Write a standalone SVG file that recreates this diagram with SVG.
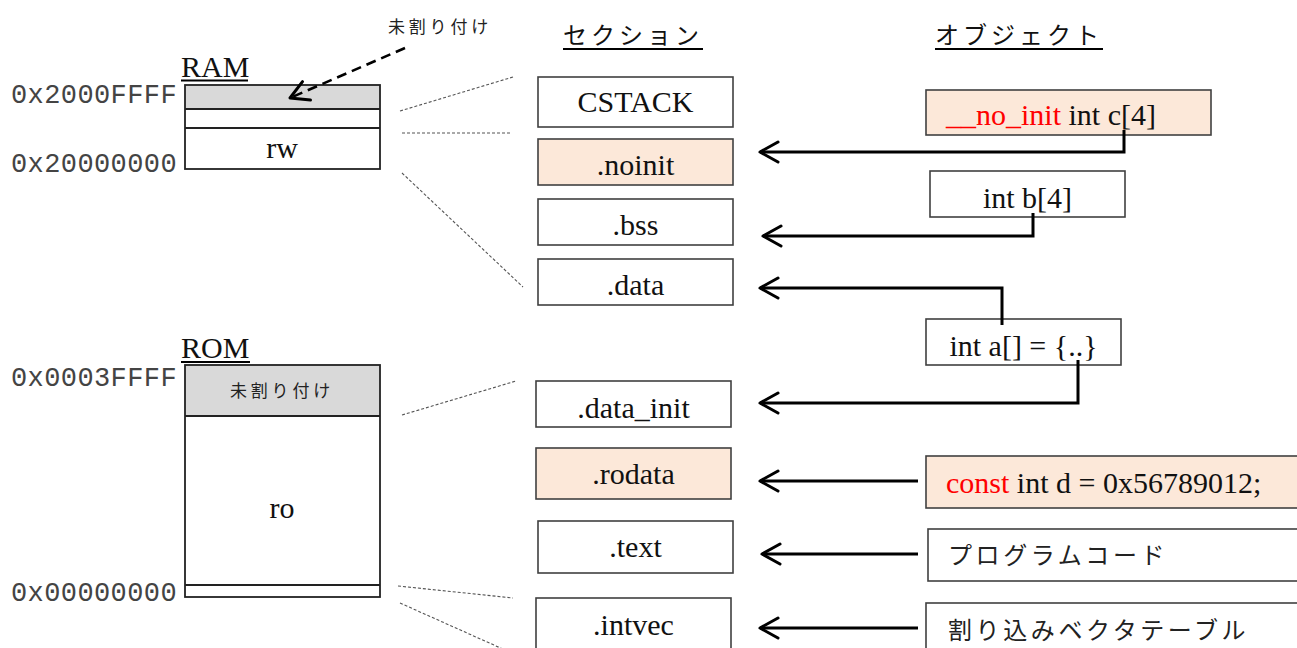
<svg xmlns="http://www.w3.org/2000/svg" width="1297" height="648" viewBox="0 0 1297 648">
<style>
.box{stroke:#404040;stroke-width:1.6;fill:#fff}
.peach{fill:#fce8d9}
.gray{fill:#d9d9d9}
.mem{stroke:#222;stroke-width:1.8;fill:none}
.t{font-family:"Liberation Serif","Times New Roman",serif;font-size:30px;fill:#111}
.jp{font-family:"Noto Sans CJK JP","Noto Sans",sans-serif;fill:#222}
.hdr{font-size:24px;letter-spacing:4px;fill:#111}
.addr{font-family:"Liberation Mono","Courier New",monospace;font-size:27px;letter-spacing:0.4px;fill:#444}
.red{fill:#ff0000}
.dot{stroke:#555;stroke-width:1.1;stroke-dasharray:3 2;fill:none}
.conn{stroke:#000;stroke-width:3;fill:none;marker-end:url(#arr)}
</style>
<defs>
<marker id="arr" viewBox="-20 -12 23 24" refX="0" refY="0" markerWidth="23" markerHeight="24" markerUnits="userSpaceOnUse" orient="auto">
<path d="M -18 -10 L 0 0 L -18 10" fill="none" stroke="#000" stroke-width="3" stroke-linecap="round" stroke-linejoin="round"/>
</marker>
</defs>

<g id="ram">
<text class="t" x="181" y="77" font-size="29">RAM</text>
<line x1="181" y1="80.5" x2="248" y2="80.5" stroke="#000" stroke-width="2"/>
<rect class="gray" x="185" y="85" width="195" height="24"/>
<rect class="mem" x="185" y="85" width="195" height="84"/>
<line class="mem" x1="185" y1="109" x2="380" y2="109"/>
<line class="mem" x1="185" y1="128" x2="380" y2="128"/>
<text class="t" x="282" y="158" text-anchor="middle">rw</text>
<text class="addr" x="11" y="103">0x2000FFFF</text>
<text class="addr" x="11" y="172">0x20000000</text>
</g>

<g id="unalloc-note">
<text class="jp" x="388" y="33" font-size="17" letter-spacing="3.8" fill="#444">未割り付け</text>
<line x1="405" y1="48" x2="290" y2="98" stroke="#000" stroke-width="2.6" stroke-dasharray="10 6" marker-end="url(#arr)"/>
</g>

<g id="rom">
<text class="t" x="181" y="358" font-size="29">ROM</text>
<line x1="181" y1="362" x2="250" y2="362" stroke="#000" stroke-width="2"/>
<rect class="gray" x="185" y="365" width="195" height="51"/>
<rect class="mem" x="185" y="365" width="195" height="232"/>
<line class="mem" x1="185" y1="416" x2="380" y2="416"/>
<line class="mem" x1="185" y1="585" x2="380" y2="585"/>
<text class="jp" x="282" y="397" font-size="17" letter-spacing="3.8" fill="#444" text-anchor="middle">未割り付け</text>
<text class="t" x="282" y="518" text-anchor="middle">ro</text>
<text class="addr" x="11" y="386">0x0003FFFF</text>
<text class="addr" x="11" y="601">0x00000000</text>
</g>

<g id="headers">
<text class="jp hdr" x="563" y="44">セクション</text>
<line x1="563" y1="49" x2="703" y2="49" stroke="#000" stroke-width="2"/>
<text class="jp hdr" x="935" y="44">オブジェクト</text>
<line x1="935" y1="49" x2="1103" y2="49" stroke="#000" stroke-width="2"/>
</g>

<g id="sec-cstack"><rect class="box" x="538" y="77" width="195" height="50"/><text class="t" x="635.5" y="112" text-anchor="middle">CSTACK</text></g>
<g id="sec-noinit"><rect class="box peach" x="538" y="139" width="195" height="46"/><text class="t" x="635.5" y="175" text-anchor="middle">.noinit</text></g>
<g id="sec-bss"><rect class="box" x="538" y="199" width="195" height="46"/><text class="t" x="635.5" y="235" text-anchor="middle">.bss</text></g>
<g id="sec-data"><rect class="box" x="538" y="259" width="195" height="46"/><text class="t" x="635.5" y="295" text-anchor="middle">.data</text></g>
<g id="sec-data-init"><rect class="box" x="536" y="381" width="195" height="46"/><text class="t" x="633.5" y="418" text-anchor="middle">.data_init</text></g>
<g id="sec-rodata"><rect class="box peach" x="536" y="448" width="195" height="51"/><text class="t" x="633.5" y="484" text-anchor="middle">.rodata</text></g>
<g id="sec-text"><rect class="box" x="538" y="521" width="195" height="52"/><text class="t" x="635.5" y="557" text-anchor="middle">.text</text></g>
<g id="sec-intvec"><rect class="box" x="536" y="598" width="195" height="60"/><text class="t" x="633.5" y="635" text-anchor="middle">.intvec</text></g>

<g id="obj-c"><rect class="box peach" x="926" y="90" width="285" height="45"/><text class="t" x="946" y="125"><tspan class="red">__no_init</tspan> int c[4]</text></g>
<g id="obj-b"><rect class="box" x="930" y="171" width="195" height="46"/><text class="t" x="1027.5" y="208" text-anchor="middle">int b[4]</text></g>
<g id="obj-a"><rect class="box" x="926" y="319" width="195" height="46"/><text class="t" x="1023.5" y="356" text-anchor="middle">int a[] = {..}</text></g>
<g id="obj-d"><rect class="box peach" x="926" y="456" width="390" height="52"/><text class="t" x="946" y="493" font-size="31"><tspan class="red">const</tspan> int d = 0x56789012;</text></g>
<g id="obj-code"><rect class="box" x="928" y="529" width="390" height="52"/><text class="jp" x="948" y="564" font-size="24" letter-spacing="3.6">プログラムコード</text></g>
<g id="obj-vec"><rect class="box" x="926" y="603" width="390" height="60"/><text class="jp" x="948" y="639" font-size="24" letter-spacing="3.6">割り込みベクタテーブル</text></g>

<g id="connectors">
<line class="dot" x1="400" y1="111" x2="513" y2="77"/>
<line class="dot" x1="402" y1="133" x2="512" y2="133"/>
<line class="dot" x1="402" y1="173" x2="523" y2="287"/>
<line class="dot" x1="402" y1="415" x2="516" y2="381"/>
<line class="dot" x1="398" y1="586" x2="513" y2="598"/>
<line class="dot" x1="400" y1="603" x2="505" y2="650"/>
<path class="conn" d="M1124 130 V152 H760"/>
<path class="conn" d="M1033 213 V236 H763"/>
<path class="conn" d="M1002 325 V288 H760"/>
<path class="conn" d="M1078 360 V403 H760"/>
<path class="conn" d="M918 481 H760"/>
<path class="conn" d="M918 554 H762"/>
<path class="conn" d="M918 628 H760"/>
</g>
</svg>
